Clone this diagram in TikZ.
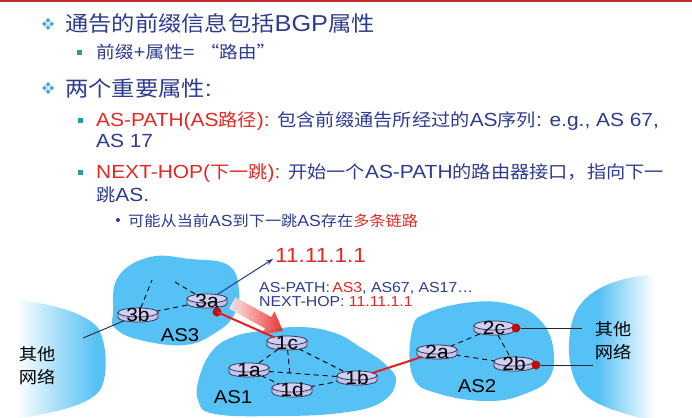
\documentclass[tikz,border=0pt]{standalone}
\usepackage{fontspec}
\setmainfont[FakeStretch=1.1]{Liberation Sans}
\newfontfamily\zhfont[FakeStretch=1.1, Scale=0.92]{Noto Sans CJK SC}
\newcommand\zw[1]{{\zhfont #1}}
\usetikzlibrary{shapes.geometric,arrows.meta}

\definecolor{txtblue}{RGB}{45,60,145}
\definecolor{txtred}{RGB}{228,40,35}
\definecolor{bulletteal}{RGB}{30,160,165}
\definecolor{diamondblue}{RGB}{80,165,215}
\definecolor{blob}{RGB}{86,193,244}
\definecolor{rbody}{RGB}{196,196,238}
\definecolor{rtop}{RGB}{208,208,245}
\definecolor{rline}{RGB}{55,55,85}
\definecolor{linkred}{RGB}{232,30,30}
\definecolor{dotred}{RGB}{185,15,15}
\definecolor{arrowblue}{RGB}{35,60,150}
\definecolor{arrowpale}{RGB}{255,235,232}
\definecolor{topbar}{RGB}{185,45,45}

\pgfdeclarehorizontalshading{leftnet}{100bp}{color(0bp)=(white); color(36bp)=(white); color(70bp)=(blob); color(100bp)=(blob)}
\pgfdeclarehorizontalshading{rightnet}{100bp}{color(0bp)=(blob); color(37bp)=(blob); color(58bp)=(white); color(100bp)=(white)}

\newcommand\tsize[1]{\fontsize{#1}{#1}\selectfont}

\tikzset{
  pics/cyl/.style={code={
    \draw[draw=rline, line width=0.8pt, fill=rbody] (-20,-2.5) -- (-20,2.5)
      arc[start angle=180, end angle=0, x radius=20, y radius=4.5] -- (20,-2.5) -- cycle;
    \draw[draw=rline, line width=0.8pt, fill=rtop] (0,-2.5) ellipse[x radius=20, y radius=4.5];
  }},
  rnode/.style={ellipse, minimum width=40pt, minimum height=14pt, inner sep=0pt},
  rlabel/.style={inner sep=0pt, font=\tsize{19}, text=black},
  dashlink/.style={draw=black, line width=0.9pt, dash pattern=on 5pt off 4pt},
  redlink/.style={draw=linkred, line width=2pt},
  netlink/.style={draw=black!85, line width=0.9pt},
  reddot/.style={circle, fill=dotred, inner sep=0pt, minimum size=9pt},
  aslabel/.style={inner sep=0pt, font=\tsize{18.5}, text=black},
  netlabel/.style={inner sep=0pt, align=center, font=\zhfont\fontsize{18}{23}\selectfont, text=black},
  line/.style={anchor=base west, inner sep=0pt, text=txtblue},
  sqbullet/.style={fill=bulletteal, minimum size=5pt, inner sep=0pt},
  dotbullet/.style={circle, fill=txtblue, minimum size=4pt, inner sep=0pt},
  blobfill/.style={fill=blob}
}

% four small rhombi forming the top-level bullet
\newcommand\fourdiamond[2]{%
  \foreach \dx/\dy in {-3.6/0, 3.6/0, 0/-3.6, 0/3.6}{
    \fill[diamondblue] (#1+\dx,#2+\dy-2.4) -- (#1+\dx+2.4,#2+\dy) -- (#1+\dx,#2+\dy+2.4) -- (#1+\dx-2.4,#2+\dy) -- cycle;
  }}

\begin{document}
\begin{tikzpicture}[x=1pt, y=-1pt]
\fill[white] (0,0) rectangle (692,417);
\clip (0,0) rectangle (692,417);
\draw[topbar, line width=2pt] (0,1) -- (692,1);

% ---------- bullet text ----------
\fourdiamond{48}{24}
\node[line, font=\tsize{23}] (t1) at (65,32) {\zw{通告的前缀信息包括}BGP\zw{属性}};
\node[sqbullet] (b2) at (79,53) {};
\node[line, font=\tsize{18.5}] (t2) at (96,59) {\zw{前缀}+\zw{属性}= \zw{“路由”}};
\fourdiamond{48}{88}
\node[line, font=\tsize{23}] (t3) at (65,96) {\zw{两个重要属性}:};
\node[sqbullet] (b4) at (80,120) {};
\node[line, font=\tsize{19}] (t4) at (96,126) {\textcolor{txtred}{AS-PATH(AS\zw{路径}):} \zw{包含前缀通告所经过的}AS\zw{序列}: e.g., AS 67,};
\node[line, font=\tsize{19}] (t5) at (96,147) {AS 17};
\node[sqbullet] (b6) at (80,172) {};
\node[line, font=\tsize{19}] (t6) at (96,178) {\textcolor{txtred}{NEXT-HOP(\zw{下一跳}):} \zw{开始一个}AS-PATH\zw{的路由器接口，指向下一}};
\node[line, font=\tsize{19}] (t7) at (96,201) {\zw{跳}AS.};
\node[dotbullet] (b8) at (118,220) {};
\node[line, font=\tsize{16}] (t8) at (128,226) {\zw{可能从当前}AS\zw{到下一跳}AS\zw{存在}\textcolor{txtred}{\zw{多条链路}}};

% ---------- outside networks ----------
\shade[shading=leftnet] (-10,300) -- (20,300) .. controls (50,304) and (85,312) .. (98,328)
  .. controls (108,345) and (108,378) .. (100,390) .. controls (90,404) and (60,412) .. (20,418) -- (-10,420) -- cycle;
\shade[shading=rightnet] (700,268) -- (640,276) .. controls (600,282) and (578,298) .. (572,322)
  .. controls (566,345) and (568,380) .. (585,395) .. controls (600,408) and (630,416) .. (660,422) -- (700,422) -- cycle;

% ---------- autonomous systems ----------
\fill[blobfill] plot[smooth cycle, tension=0.7] coordinates {(113,313) (118,277) (150,257) (190,259) (228,265) (239,290) (234,315) (215,333) (185,345) (140,340) (115,328)};
\fill[blobfill] plot[smooth cycle, tension=0.7] coordinates {(213,350) (233,337) (260,331) (300,327) (335,333) (360,347) (385,364) (396,382) (380,403) (340,413) (280,416) (215,414) (198,400) (200,375)};
\fill[blobfill] plot[smooth cycle, tension=0.7] coordinates {(412,330) (427,313) (473,302) (513,305) (540,320) (553,347) (550,377) (527,393) (490,401) (440,394) (413,377)};

% ---------- router positions ----------
\node[rnode] (r3b) at (138,315) {};
\node[rnode] (r3a) at (207,301) {};
\node[rnode] (r1c) at (287,343) {};
\node[rnode] (r1a) at (249,370) {};
\node[rnode] (r1d) at (292,390) {};
\node[rnode] (r1b) at (357,378) {};
\node[rnode] (r2a) at (437,352) {};
\node[rnode] (r2c) at (494,328) {};
\node[rnode] (r2b) at (514,364) {};

\coordinate (s1) at (152,280);
\coordinate (s2) at (175,282);
\coordinate (m1) at (290,376);
\coordinate (lnet) at (83,338);
\coordinate (rnet1) at (582,328);
\coordinate (rnet2) at (593,365);
\coordinate (dst) at (273,259);

% intra-AS links
\draw[dashlink] (r3b) -- (s1);
\draw[dashlink] (s2) -- (r3a);
\draw[dashlink] (r3b) -- (r3a);
\draw[dashlink] (r1c) -- (r1a);
\draw[dashlink] (r1c) -- (r1b);
\draw[dashlink] (r1c) -- (m1);
\draw[dashlink] (r1a) -- (r1b);
\draw[dashlink] (r1a) -- (r1d);
\draw[dashlink] (r1d) -- (r1b);
\draw[dashlink] (r2a) -- (r2c);
\draw[dashlink] (r2a) -- (r2b);
\draw[dashlink] (r2c) -- (r2b);

% links to other networks
\draw[netlink] (r3b) -- (lnet);

% advertisement arrow towards AS1
\begin{scope}[shift={(283,331)}, rotate=-29]
  \shade[left color=arrowpale, right color=linkred, opacity=0.9]
    (0,0) -- (-17,-13) -- (-17,-6.5) -- (-58,-6.5) -- (-58,6.5) -- (-17,6.5) -- (-17,13) -- cycle;
\end{scope}

% routers
\foreach \r/\x/\y in {3b/138/315, 3a/207/301, 1c/287/343, 1a/249/370, 1d/292/390, 1b/357/378, 2a/437/352, 2c/494/328, 2b/514/364}{
  \pic at (\x,\y) {cyl};
}

\node[reddot] (d3a) at (217,312) {};
\node[reddot] (d2c) at (516,328) {};
\node[reddot] (d2b) at (536,365) {};

% inter-AS links
\draw[redlink] (d3a.center) -- (r1c);
\draw[redlink] (r1b) -- (r2a);
\draw[netlink] (d2c) -- (rnet1);
\draw[netlink] (d2b) -- (rnet2);
\draw[arrowblue, line width=1pt, -{Stealth[length=7pt,width=5pt]}] (r3a) -- (dst);

% router labels
\node[rlabel] (l3b) at (r3b) {3b};
\node[rlabel] (l3a) at (r3a) {3a};
\node[rlabel] (l1c) at (r1c) {1c};
\node[rlabel] (l1a) at (r1a) {1a};
\node[rlabel] (l1d) at (r1d) {1d};
\node[rlabel] (l1b) at (r1b) {1b};
\node[rlabel] (l2a) at (r2a) {2a};
\node[rlabel] (l2c) at (r2c) {2c};
\node[rlabel] (l2b) at (r2b) {2b};

% AS names
\node[aslabel] (as3) at (180,335) {AS3};
\node[aslabel] (as1) at (233,397) {AS1};
\node[aslabel] (as2) at (477,386) {AS2};

% other-network names
\node[netlabel] (on1) at (37,366) {其他\\网络};
\node[netlabel] (on2) at (613,341) {其他\\网络};

% advertised route
\node[anchor=west, inner sep=0pt, text=txtred, font=\tsize{20.5}] (ip) at (275,255) {11.11.1.1};
\node[anchor=west, inner sep=0pt, text=txtblue, font=\tsize{14.4}] (aspath) at (259,288) {AS-PATH:\,\textcolor{txtred}{AS3}, AS67, AS17…};
\node[anchor=west, inner sep=0pt, text=txtblue, font=\tsize{14.4}] (nexthop) at (259,302) {NEXT-HOP: \textcolor{txtred}{11.11.1.1}};
\end{tikzpicture}
\end{document}
